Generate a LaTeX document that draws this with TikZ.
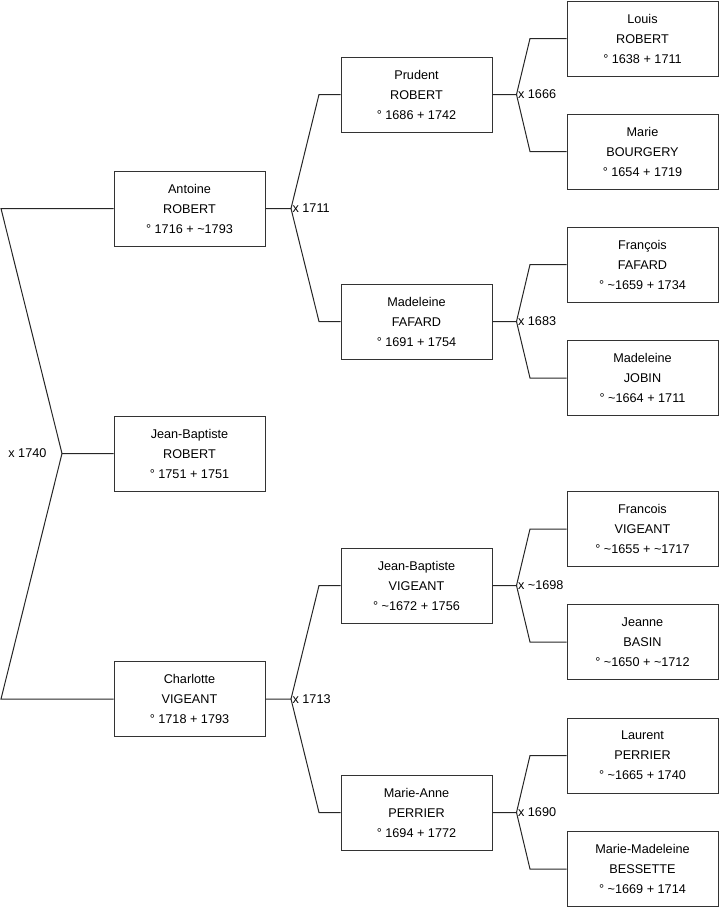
\documentclass[tikz,border=0pt]{standalone}
\usepackage{fontspec}
\setmainfont{Liberation Sans}
\usetikzlibrary{positioning}
\newcommand{\abt}{\textasciitilde}
\tikzset{
  person/.style={draw=black!80, line width=0.75pt, fill=white, minimum width=113.25pt,
    minimum height=56.25pt, inner sep=0pt, align=center, font=\fontsize{9.5}{15}\selectfont},
  wed/.style={inner sep=1pt, font=\fontsize{9.5}{11}\selectfont},
  link/.style={black!85, line width=0.75pt},
}

\begin{document}
\begin{tikzpicture}[x=0.75pt,y=-0.75pt]
\useasboundingbox (0,0) rectangle (719,908);
% first generation
\node[person] (antoine)   at (189.5,208.5) {Antoine\\ ROBERT\\ ° 1716 + \abt1793};
\node[person] (jbrobert)  at (189.5,453.5) {Jean-Baptiste\\ ROBERT\\ ° 1751 + 1751};
\node[person] (charlotte) at (189.5,699)   {Charlotte\\ VIGEANT\\ ° 1718 + 1793};
% second generation
\node[person] (prudent)   at (416.5,94.5)  {Prudent\\ ROBERT\\ ° 1686 + 1742};
\node[person] (madfafard) at (416.5,321.5) {Madeleine\\ FAFARD\\ ° 1691 + 1754};
\node[person] (jbvigeant) at (416.5,585.5) {Jean-Baptiste\\ VIGEANT\\ ° \abt1672 + 1756};
\node[person] (marieanne) at (416.5,812.5) {Marie-Anne\\ PERRIER\\ ° 1694 + 1772};
% third generation
\node[person] (louis)      at (642.5,38.5)  {Louis\\ ROBERT\\ ° 1638 + 1711};
\node[person] (marie)      at (642.5,151.5) {Marie\\ BOURGERY\\ ° 1654 + 1719};
\node[person] (francois)   at (642.5,264.5) {François\\ FAFARD\\ ° \abt1659 + 1734};
\node[person] (madjobin)   at (642.5,378)   {Madeleine\\ JOBIN\\ ° \abt1664 + 1711};
\node[person] (francoisv)  at (642.5,529)   {Francois\\ VIGEANT\\ ° \abt1655 + \abt1717};
\node[person] (jeanne)     at (642.5,642)   {Jeanne\\ BASIN\\ ° \abt1650 + \abt1712};
\node[person] (laurent)    at (642.5,755.5) {Laurent\\ PERRIER\\ ° \abt1665 + 1740};
\node[person] (mmadeleine) at (642.5,869)   {Marie-Madeleine\\ BESSETTE\\ ° \abt1669 + 1714};
% marriage forks
\coordinate (m1740) at (62,453.5);
\coordinate (m1740a) at (1,208.5);
\coordinate (m1740b) at (1,699);
\draw[link] (antoine.west) -- (m1740a) -- (m1740) -- (jbrobert.west);
\draw[link] (m1740) -- (m1740b) -- (charlotte.west);
\node[wed,anchor=east] (w1740) at (48,453.5) {x 1740};
\coordinate (m1711) at (291,208.5);
\coordinate (m1711a) at (319,94.5);
\coordinate (m1711b) at (319,321.5);
\draw[link] (antoine.east) -- (m1711) -- (m1711a) -- (prudent.west);
\draw[link] (m1711) -- (m1711b) -- (madfafard.west);
\node[wed,anchor=west] (w1711) at (m1711) {x 1711};
\coordinate (m1713) at (291,699);
\coordinate (m1713a) at (319,585.5);
\coordinate (m1713b) at (319,812.5);
\draw[link] (charlotte.east) -- (m1713) -- (m1713a) -- (jbvigeant.west);
\draw[link] (m1713) -- (m1713b) -- (marieanne.west);
\node[wed,anchor=west] (w1713) at (m1713) {x 1713};
% parents of the second generation
\foreach \kid/\dad/\mom/\yr in {prudent/louis/marie/1666, madfafard/francois/madjobin/1683,
    jbvigeant/francoisv/jeanne/\abt1698, marieanne/laurent/mmadeleine/1690}{
  \coordinate (f\kid) at ([xshift=18pt]\kid.east);
  \draw[link] (\kid.east) -- (f\kid) -- (530,0 |- \dad.west) -- (\dad.west);
  \draw[link] (f\kid) -- (530,0 |- \mom.west) -- (\mom.west);
  \node[wed,anchor=west] (w\kid) at (f\kid) {x \yr};
}
\end{tikzpicture}
\end{document}
